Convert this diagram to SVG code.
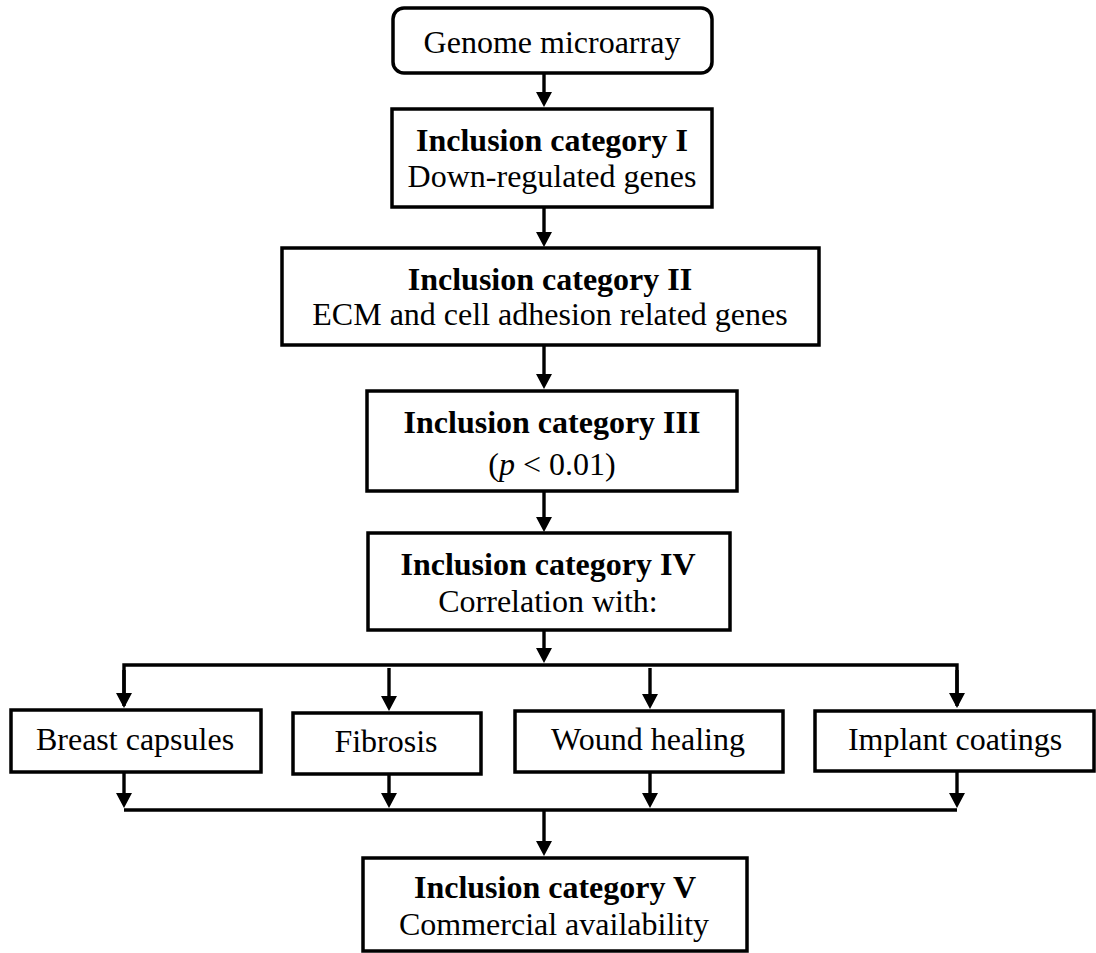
<svg xmlns="http://www.w3.org/2000/svg" width="1096" height="953" viewBox="0 0 1096 953">
<style>
.box{fill:#fff;stroke:#000;stroke-width:3.5}
.ln{fill:none;stroke:#000;stroke-width:3.4}
.arr{fill:none;stroke:#000;stroke-width:3.4;marker-end:url(#ah)}
.t{font-family:'Liberation Serif','Times New Roman',Tinos,'DejaVu Serif',serif;font-size:32px;fill:#000;text-anchor:middle}
.b{font-weight:bold}
</style>
<defs>
<marker id="ah" markerUnits="userSpaceOnUse" markerWidth="18" markerHeight="18" refX="7" refY="8" orient="auto">
<path d="M0,0 L15,8 L0,16 z" fill="#000"/>
</marker>
</defs>
<rect width="1096" height="953" fill="#fff"/>
<g id="connectors">
<line class="arr" x1="544" y1="73" x2="544" y2="99"/>
<line class="arr" x1="544" y1="207" x2="544" y2="239"/>
<line class="arr" x1="544" y1="345" x2="544" y2="381"/>
<line class="arr" x1="544" y1="491" x2="544" y2="524"/>
<line class="arr" x1="544" y1="630" x2="544" y2="655"/>
<polyline class="ln" points="124,706 124,665 957,665 957,706"/>
<line class="arr" x1="124" y1="670" x2="124" y2="700"/>
<line class="arr" x1="957" y1="670" x2="957" y2="700"/>
<line class="arr" x1="389" y1="668" x2="389" y2="703"/>
<line class="arr" x1="650" y1="668" x2="650" y2="701"/>
<line class="ln" x1="124" y1="810" x2="957" y2="810"/>
<line class="arr" x1="124" y1="772" x2="124" y2="800"/>
<line class="arr" x1="389" y1="774" x2="389" y2="800"/>
<line class="arr" x1="650" y1="772" x2="650" y2="800"/>
<line class="arr" x1="957" y1="771" x2="957" y2="800"/>
<line class="arr" x1="544" y1="810" x2="544" y2="848"/>
</g>
<g id="genome">
<rect class="box" x="393" y="8" width="319" height="65" rx="11"/>
<text class="t" x="552" y="53">Genome microarray</text>
</g>
<g id="cat1">
<rect class="box" x="392" y="109" width="320" height="98"/>
<text class="t b" x="552" y="151">Inclusion category I</text>
<text class="t" x="552" y="187">Down-regulated genes</text>
</g>
<g id="cat2">
<rect class="box" x="282" y="248" width="537" height="97"/>
<text class="t b" x="550" y="290">Inclusion category II</text>
<text class="t" x="550" y="325">ECM and cell adhesion related genes</text>
</g>
<g id="cat3">
<rect class="box" x="367" y="391" width="370" height="100"/>
<text class="t b" x="552" y="433">Inclusion category III</text>
<text class="t" x="552" y="475">(<tspan font-style="italic">p</tspan> &lt; 0.01)</text>
</g>
<g id="cat4">
<rect class="box" x="368" y="533" width="362" height="97"/>
<text class="t b" x="548" y="575">Inclusion category IV</text>
<text class="t" x="548" y="612">Correlation with:</text>
</g>
<g id="breast">
<rect class="box" x="11" y="710" width="250" height="62"/>
<text class="t" x="135" y="750">Breast capsules</text>
</g>
<g id="fibrosis">
<rect class="box" x="293" y="713" width="188" height="61"/>
<text class="t" x="386" y="752">Fibrosis</text>
</g>
<g id="wound">
<rect class="box" x="515" y="711" width="268" height="61"/>
<text class="t" x="648" y="750">Wound healing</text>
</g>
<g id="implant">
<rect class="box" x="815" y="711" width="279" height="60"/>
<text class="t" x="955" y="750">Implant coatings</text>
</g>
<g id="cat5">
<rect class="box" x="363" y="858" width="384" height="93"/>
<text class="t b" x="555" y="898">Inclusion category V</text>
<text class="t" x="554" y="935">Commercial availability</text>
</g>
</svg>
